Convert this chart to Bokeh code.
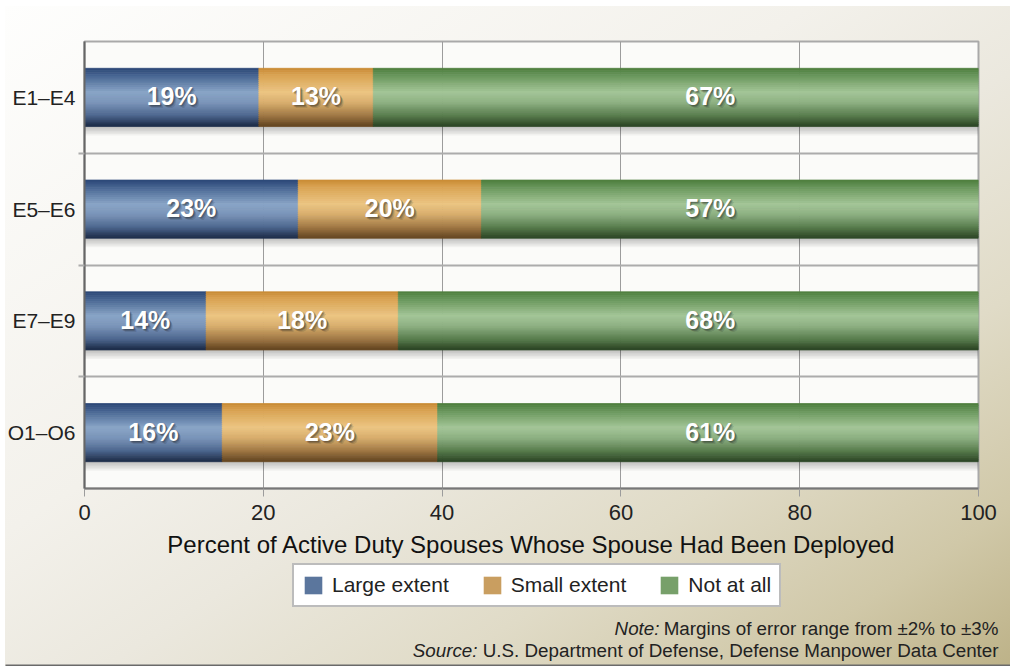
from bokeh.plotting import figure
from bokeh.models import Range1d, FixedTicker, Legend, LegendItem, Column
from bokeh.core.properties import value
from bokeh.embed import file_html
from bokeh.resources import INLINE

# ---------------- data ----------------
categories = ["E1–E4", "E5–E6", "E7–E9", "O1–O6"]
large_extent = [19.5, 23.9, 13.6, 15.4]
small_extent = [12.8, 20.5, 21.5, 24.1]
not_at_all = [67.7, 55.6, 64.9, 60.5]
large_labels = ["19%", "23%", "14%", "16%"]
small_labels = ["13%", "20%", "18%", "23%"]
not_labels = ["67%", "57%", "68%", "61%"]
series_names = ["Large extent", "Small extent", "Not at all"]
x_ticks = [0, 20, 40, 60, 80, 100]
x_title = "Percent of Active Duty Spouses Whose Spouse Had Been Deployed"
note_lead = "Note:"
note_text = "Margins of error range from ±2% to ±3%"
source_lead = "Source:"
source_text = "U.S. Department of Defense, Defense Manpower Data Center"

# ---------------- styles ----------------
FONT = "Liberation Sans"
W = 1010
P_H = 562
Q_H = 104
BAR_H = 0.52
N_STRIPS = 30
GREEN_LABEL_X = 70
PROFILES = {
    "Large extent": [(0.0, "#2a4675"), (0.12, "#44628f"), (0.42, "#89a5c7"), (0.6, "#7a95b9"),
                     (0.82, "#4c668e"), (1.0, "#1b2a46")],
    "Small extent": [(0.0, "#c88a33"), (0.12, "#d9a352"), (0.42, "#ecc583"), (0.6, "#d8ae6d"),
                     (0.82, "#a07844"), (1.0, "#624420")],
    "Not at all": [(0.0, "#4c7d3c"), (0.12, "#669459"), (0.42, "#a4c698"), (0.6, "#8db082"),
                   (0.82, "#587c4d"), (1.0, "#2b4424")],
}
LEGEND_COLORS = {"Large extent": "#5b769d", "Small extent": "#c99e60", "Not at all": "#77a06a"}
BG = ("linear-gradient(to bottom right, #fefefd 0%, #f3f1eb 40%, #ebe8de 55%, "
      "#e0dbc7 72%, #d0c8a8 88%, #bdb288 100%) 5px 6px / 1005px 660px no-repeat, #ffffff")
NOTE_SIZE = "18.8px"


def hex2rgb(h):
    h = h.lstrip("#")
    return tuple(int(h[i:i + 2], 16) for i in (0, 2, 4))


def interp(profile, t):
    for (t0, c0), (t1, c1) in zip(profile[:-1], profile[1:]):
        if t0 <= t <= t1:
            f = (t - t0) / (t1 - t0) if t1 > t0 else 0
            a, b = hex2rgb(c0), hex2rgb(c1)
            return "#%02x%02x%02x" % tuple(round(a[i] + (b[i] - a[i]) * f) for i in range(3))
    return profile[-1][1]


n = len(categories)
rows = [n - 1 - i for i in range(n)]
series_vals = [large_extent, small_extent, not_at_all]
lefts_by_series = []
acc = [0.0] * n
for vals in series_vals:
    lefts_by_series.append(list(acc))
    acc = [a + v for a, v in zip(acc, vals)]

# ================= main chart =================
p = figure(width=W, height=P_H, output_backend="svg", toolbar_location=None,
           x_range=Range1d(0, 100), y_range=Range1d(-0.5, n - 0.5),
           min_border_left=84, min_border_right=32, min_border_top=41, min_border_bottom=74)
p.frame_align = False
p.border_fill_color = None
p.background_fill_color = "#fbfbf9"
p.outline_line_color = "#a9a9a9"
p.outline_line_width = 2

p.xgrid.ticker = FixedTicker(ticks=x_ticks)
p.xgrid.grid_line_color = "#9c9c9c"
p.xgrid.grid_line_width = 1
yt = FixedTicker(ticks=rows, minor_ticks=[r + 0.5 for r in range(n - 1)])
p.ygrid.ticker = yt
p.ygrid.grid_line_color = None
p.ygrid.minor_grid_line_color = "#acacac"
p.ygrid.minor_grid_line_width = 2

p.xaxis.ticker = FixedTicker(ticks=x_ticks)
p.xaxis.axis_line_color = "#777777"
p.xaxis.axis_line_width = 2
p.xaxis.major_tick_out = 8
p.xaxis.major_tick_in = 0
p.xaxis.major_tick_line_color = "#9c9c9c"
p.xaxis.minor_tick_line_color = None
p.xaxis.major_label_text_font = FONT
p.xaxis.major_label_text_font_size = "22px"
p.xaxis.major_label_text_color = "#222222"
p.xaxis.major_label_standoff = 8
p.xaxis.axis_label = x_title
p.xaxis.axis_label_text_font = FONT
p.xaxis.axis_label_text_font_size = "24px"
p.xaxis.axis_label_text_font_style = "normal"
p.xaxis.axis_label_text_color = "#111111"
p.xaxis.axis_label_standoff = 8

p.yaxis.ticker = yt
p.yaxis.major_label_overrides = {rows[i]: categories[i] for i in range(n)}
p.yaxis.axis_line_color = "#666666"
p.yaxis.axis_line_width = 2
p.yaxis.major_tick_out = 0
p.yaxis.major_tick_in = 0
p.yaxis.minor_tick_out = 6
p.yaxis.minor_tick_in = 0
p.yaxis.minor_tick_line_color = "#acacac"
p.yaxis.minor_tick_line_width = 2
p.yaxis.major_label_text_font = FONT
p.yaxis.major_label_text_font_size = "21px"
p.yaxis.major_label_text_color = "#222222"
p.yaxis.major_label_standoff = 3

# soft shadows under the bars
px_y = n / 447.0
for k in range(1, 7):
    p.hbar(y=[r - k * 1.5 * px_y for r in rows], left=[0] * n, right=[100 + k * 0.12] * n,
           height=BAR_H, fill_color="black", fill_alpha=0.04, line_color=None)

# gradient bars built from thin horizontal strips
for k in range(N_STRIPS):
    t = (k + 0.5) / N_STRIPS
    ys, ls, rs, cs = [], [], [], []
    for name, vals, lefts in zip(series_names, series_vals, lefts_by_series):
        col = interp(PROFILES[name], t)
        for i in range(n):
            ys.append(rows[i] + BAR_H / 2 - t * BAR_H)
            ls.append(lefts[i])
            rs.append(lefts[i] + vals[i])
            cs.append(col)
    p.hbar(y=ys, left=ls, right=rs, height=BAR_H / N_STRIPS, fill_color=cs,
           line_color=cs, line_width=0.8)

# value labels with a soft dark shadow
lx, ly, lt = [], [], []
for vals, lefts, labs, name in zip(series_vals, lefts_by_series,
                                   [large_labels, small_labels, not_labels], series_names):
    for i in range(n):
        lx.append(GREEN_LABEL_X if name == "Not at all" else lefts[i] + vals[i] / 2)
        ly.append(rows[i])
        lt.append(labs[i])
for dx, dy in [(1, 0), (1, 1), (2, 2), (2, 1), (1, 2), (3, 3)]:
    p.text(x=lx, y=ly, text=lt, x_offset=dx, y_offset=dy - 1, text_align="center",
           text_baseline="middle", text_font=value(FONT), text_font_style="bold",
           text_font_size="25px", text_color="#1a1a1a", text_alpha=0.15)
p.text(x=lx, y=ly, text=lt, y_offset=-1, text_align="center", text_baseline="middle",
       text_font=value(FONT), text_font_style="bold", text_font_size="25px",
       text_color="white")

# ================= legend + notes strip =================
q = figure(width=W, height=Q_H, output_backend="svg", toolbar_location=None,
           x_range=Range1d(0, W), y_range=Range1d(0, Q_H),
           x_axis_type=None, y_axis_type=None,
           min_border_left=0, min_border_right=0, min_border_top=0, min_border_bottom=0)
q.frame_align = False
q.border_fill_color = None
q.background_fill_color = None
q.outline_line_color = None
q.grid.visible = False

items = []
for name in series_names:
    r = q.hbar(y=[Q_H / 2], left=[0], right=[0], height=0, fill_color=LEGEND_COLORS[name],
               line_color=None)
    items.append(LegendItem(label=name, renderers=[r]))
legend = Legend(items=items, orientation="horizontal", location=(292, 59),
                label_text_font=FONT, label_text_font_size="21px", label_text_color="#222222",
                glyph_width=22, glyph_height=22, label_standoff=8, spacing=32, padding=8,
                margin=0, border_line_color="#7a7a7a", border_line_width=2,
                background_fill_color="white", background_fill_alpha=1.0)
q.add_layout(legend, "center")


def ypx(y):  # pixel row within the strip (from its top) -> strip coordinate
    return Q_H - y


q.text(x=[998, 998], y=[ypx(66), ypx(88)], text=[note_text, source_text],
       text_align="right", text_baseline="middle", text_font=value(FONT),
       text_font_size=NOTE_SIZE, text_color="#222222")
q.text(x=[659, 477], y=[ypx(66), ypx(88)], text=[note_lead, source_lead],
       text_align="right", text_baseline="middle", text_font=value(FONT),
       text_font_style="italic", text_font_size=NOTE_SIZE, text_color="#222222")
q.line(x=[5, W], y=[ypx(103), ypx(103)], line_color="#6a6a6a", line_width=2)

layout = Column(children=[p, q], spacing=0, styles={"background": BG})
open("out.html", "w").write(file_html(layout, INLINE))
